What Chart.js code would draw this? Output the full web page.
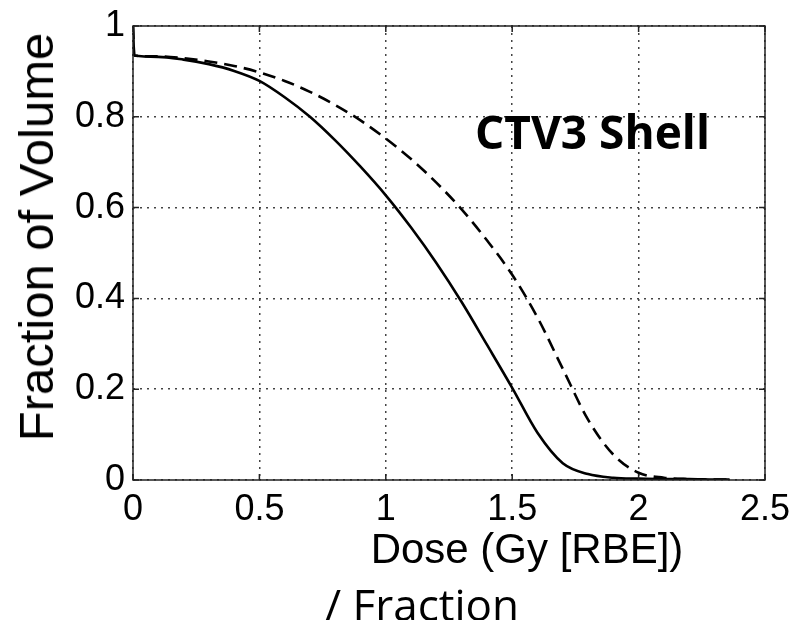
<!DOCTYPE html>
<html>
<head>
<meta charset="utf-8">
<script src="https://cdn.jsdelivr.net/npm/chart.js@4/dist/chart.umd.min.js"></script>
<style>
  html, body { margin: 0; padding: 0; background: #fff; }
  #wrap { position: relative; width: 792px; height: 620px; overflow: hidden; }
  #c { position: absolute; left: 0; top: 0; }
  .lbl { position: absolute; white-space: nowrap; line-height: 1; color: #000; }
  #ytitle { left: 36px; top: 237px; transform: translate(-50%, -50%) rotate(-90deg);
            font: 49px "Liberation Sans", Arial, sans-serif; }
  #xtitle { left: 527px; top: 549px; transform: translate(-50%, -50%);
            font: 42px "Liberation Sans", Arial, sans-serif; }
  #perfx  { left: 325px; top: 574px; font: 44px "Open Sans", sans-serif; }
  #struct { left: 475px; top: 100px; font: 700 46px "Open Sans", sans-serif; }
</style>
</head>
<body>
<div id="wrap">
  <canvas id="c" width="792" height="620"></canvas>
  <div class="lbl" id="ytitle">Fraction of Volume</div>
  <div class="lbl" id="xtitle">Dose (Gy [RBE])</div>
  <div class="lbl" id="perfx">/ Fraction</div>
  <div class="lbl" id="struct">CTV3 Shell</div>
</div>
<script>
// Dose-volume histogram for the CTV3 shell, dose per fraction in Gy (RBE)
const dose = [0, 0.005, 0.1, 0.2, 0.3, 0.4, 0.5, 0.6, 0.7, 0.8, 0.9, 1.0, 1.1, 1.2, 1.3,
              1.4, 1.5, 1.6, 1.7, 1.8, 1.9, 2.0, 2.1, 2.2, 2.3, 2.36];
const volumeSolid = [1, 0.935, 0.932, 0.926, 0.916, 0.901, 0.879, 0.843, 0.800, 0.748, 0.690,
                     0.627, 0.556, 0.478, 0.392, 0.298, 0.203, 0.104, 0.037, 0.013, 0.005,
                     0.003, 0.002, 0.002, 0.001, 0.001];
const volumeDashed = [1, 0.935, 0.933, 0.929, 0.922, 0.912, 0.898, 0.879, 0.855, 0.826, 0.792,
                      0.752, 0.707, 0.655, 0.596, 0.528, 0.452, 0.358, 0.245, 0.133, 0.056,
                      0.016, 0.005, 0.002, 0.001, 0.001];
const xTicks = [0, 0.5, 1, 1.5, 2, 2.5];
const yTicks = [0, 0.2, 0.4, 0.6, 0.8, 1];

const toPoints = ys => dose.map((d, i) => ({ x: d, y: ys[i] }));

// Closed axes box with short inward tick marks on all four sides
const boxPlugin = {
  id: 'axesBox',
  afterDatasetsDraw(chart) {
    const { ctx, chartArea: a, scales } = chart;
    ctx.save();
    ctx.strokeStyle = '#222';
    ctx.lineWidth = 1.5;
    ctx.strokeRect(a.left, a.top, a.right - a.left, a.bottom - a.top);
    const len = 6;
    ctx.beginPath();
    xTicks.forEach(v => {
      const px = scales.x.getPixelForValue(v);
      ctx.moveTo(px, a.bottom); ctx.lineTo(px, a.bottom - len);
      ctx.moveTo(px, a.top); ctx.lineTo(px, a.top + len);
    });
    yTicks.forEach(v => {
      const py = scales.y.getPixelForValue(v);
      ctx.moveTo(a.left, py); ctx.lineTo(a.left + len, py);
      ctx.moveTo(a.right, py); ctx.lineTo(a.right - len, py);
    });
    ctx.stroke();
    ctx.restore();
  }
};

const tickFont = { family: '"Liberation Sans", Arial, sans-serif', size: 36 };
const gridStyle = { color: '#444', lineWidth: 1.5, drawTicks: false };
const dotted = { display: false, dash: [2, 5] };
const fmt = v => String(v);

new Chart(document.getElementById('c'), {
  type: 'scatter',
  data: {
    datasets: [
      { data: toPoints(volumeSolid), showLine: true, borderColor: '#000', borderWidth: 2.6,
        pointRadius: 0, cubicInterpolationMode: 'monotone' },
      { data: toPoints(volumeDashed), showLine: true, borderColor: '#000', borderWidth: 2.6,
        borderDash: [13, 7], pointRadius: 0, cubicInterpolationMode: 'monotone' }
    ]
  },
  options: {
    responsive: false,
    animation: false,
    layout: { padding: { top: 26, right: 27, left: 0, bottom: 0 } },
    plugins: { legend: { display: false }, tooltip: { enabled: false } },
    scales: {
      x: {
        type: 'linear', min: 0, max: 2.5,
        afterBuildTicks: s => { s.ticks = xTicks.map(v => ({ value: v })); },
        afterFit: s => { s.height = 140; s.paddingLeft = 0; s.paddingRight = 0; },
        ticks: { font: tickFont, color: '#000', padding: 8, maxRotation: 0, callback: fmt },
        grid: { ...gridStyle },
        border: { ...dotted }
      },
      y: {
        type: 'linear', min: 0, max: 1,
        afterBuildTicks: s => { s.ticks = yTicks.map(v => ({ value: v })); },
        afterFit: s => { s.width = 133; s.paddingTop = 0; s.paddingBottom = 0; },
        ticks: { font: tickFont, color: '#000', padding: 8, callback: fmt },
        grid: { ...gridStyle },
        border: { ...dotted }
      }
    }
  },
  plugins: [boxPlugin]
});
</script>
</body>
</html>
